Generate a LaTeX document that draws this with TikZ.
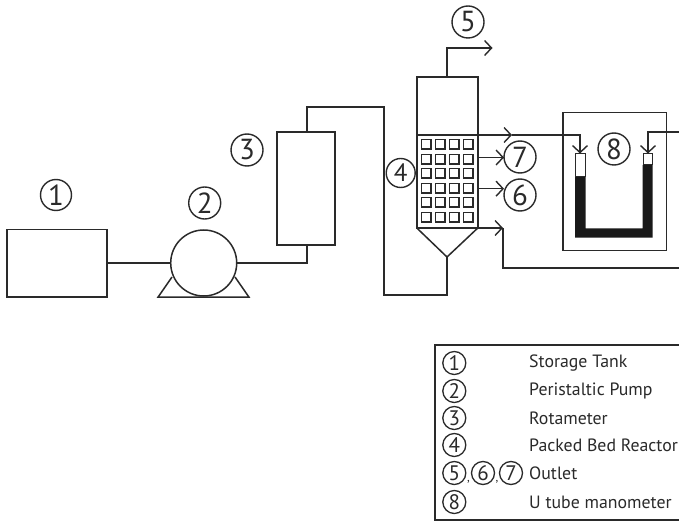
\documentclass[tikz,border=0pt]{standalone}
\usepackage{fontspec}
\setmainfont{PT Sans}
\usetikzlibrary{arrows.meta}
\definecolor{ink}{HTML}{2A2A2A}
\tikzset{
  pipe/.style={draw=ink,line width=1.5pt,line join=miter},
  flow/.style={pipe,-{Straight Barb[length=7pt,width=15pt,line width=1.4pt]}},
  boxn/.style={draw=ink,line width=1.5pt,inner sep=0pt,outer sep=0pt,fill=white},
  cnum/.style={draw=ink,circle,line width=1.4pt,inner sep=0pt,minimum size=32pt,text=ink,font=\fontsize{29}{29}\selectfont},
  lnum/.style={draw=ink,circle,line width=1.3pt,inner sep=0pt,minimum size=23pt,text=ink,font=\fontsize{21}{21}\selectfont},
  ltext/.style={anchor=west,inner sep=0pt,text=ink,font=\fontsize{17.8}{18}\selectfont},
  fluid/.style={fill=black!90,draw=none},
  tube/.style={draw=ink,line width=1pt,fill=white},
}
\begin{document}
\begin{tikzpicture}[x=1pt,y=-1pt]
\useasboundingbox[fill=white] (0,0) rectangle (679,521);
% equipment
\node[boxn,minimum width=100pt,minimum height=67.5pt] (tank) at (57,263.2) {};
\node[boxn,minimum width=58pt,minimum height=113pt] (rota) at (306,188.5) {};
\node[boxn,minimum width=61pt,minimum height=58pt] (head) at (447.3,106) {};
\node[boxn,minimum width=61pt,minimum height=93pt] (bed) at (447.3,181.5) {};
\node[boxn,minimum width=103.5pt,minimum height=137.5pt] (mbox) at (614.5,181.5) {};
% pump
\coordinate (footL) at (158,297.2);
\coordinate (footR) at (249,297.2);
\draw[pipe] (172,277) -- (footL) -- (footR) -- (235,277);
\node[boxn,circle,minimum size=66pt] (pump) at (203.7,263) {};
% cone
\coordinate (apex) at (447,257);
\draw[pipe] (bed.south west) -- (apex) -- (bed.south east);
% packing
\foreach \y in {139.5,154.5,168.5,183.5,197.5,212.5}{\foreach \x in {421.5,435.5,449.5,463.5}{
  \draw[draw=ink,line width=1.4pt] (\x,\y) rectangle +(9.5,9.5);
}}
% connectors
\coordinate (rotaTop) at (307,107);
\coordinate (riserTop) at (384,107);
\coordinate (riserBot) at (384,295);
\coordinate (feed) at (447,295);
\coordinate (rotaLow) at (307,263);
\draw[pipe] (tank.east |- pump.west) -- (pump.west);
\draw[pipe] (pump.east) -- (rotaLow) -- (rota.south -| rotaLow);
\draw[pipe] (rota.north -| rotaTop) -- (rotaTop) -- (riserTop) -- (riserBot) -- (feed) -- (apex);
% outlet 5
\coordinate (out5a) at (447,48);
\coordinate (out5b) at (492.5,48);
\draw[flow] (head.north -| out5a) -- (out5a) -- (out5b);
% outlets 6, 7
\coordinate (out7) at (504,157.5);
\coordinate (out6) at (504,188.7);
\draw[flow] (bed.east |- out7) -- (out7);
\draw[flow] (bed.east |- out6) -- (out6);
% pressure taps
\coordinate (tapTop) at (512,135);
\coordinate (tapBot) at (503,228);
\coordinate (lCorner) at (580,135);
\coordinate (lEnd) at (580,153.5);
\coordinate (rStart) at (685,132);
\coordinate (rCorner) at (648,132);
\coordinate (rEnd) at (648,153.5);
\coordinate (botCorner) at (503,268);
\coordinate (botEnd) at (685,268);
\draw[flow] (bed.north east) -- (tapTop);
\draw[flow] (tapTop) -- (lCorner) -- (lEnd);
\draw[flow] (rStart) -- (rCorner) -- (rEnd);
\draw[flow] (bed.south east) -- (tapBot);
\draw[pipe] (tapBot) -- (botCorner) -- (botEnd);
% manometer
\fill[fluid] (575,177) -- (585.7,177) -- (585.7,228.3) -- (642.7,228.3) -- (642.7,165) -- (652.7,165) -- (652.7,237.5) -- (575,237.5) -- cycle;
\draw[tube] (575.5,154) rectangle (585.2,177);
\draw[tube] (643.2,154) rectangle (652.2,165);
% numbered labels
\node[cnum,minimum size=31pt] (n1) at (56,195) {1};
\node[cnum] (n2) at (204.7,203) {2};
\node[cnum] (n3) at (247,150) {3};
\node[cnum,minimum size=29pt,font=\fontsize{25}{25}\selectfont] (n4) at (400.7,173) {4};
\node[cnum] (n5) at (468,22) {5};
\node[cnum] (n7) at (520,157) {7};
\node[cnum] (n6) at (520,195) {6};
\node[cnum] (n8) at (614,149) {8};
% legend
\draw[draw=ink,line width=1.3pt] (685,345) -- (435,345) -- (435,520) -- (685,520);
\node[lnum] (l1) at (454.3,363) {1};
\node[lnum] (l2) at (454.3,391) {2};
\node[lnum] (l3) at (454.3,418) {3};
\node[lnum] (l4) at (454.3,445) {4};
\node[lnum] (l5) at (454.3,473) {5};
\node[lnum] (l6) at (483,473) {6};
\node[lnum] (l7) at (511,473) {7};
\node[lnum] (l8) at (454.3,502) {8};
\node[inner sep=0pt,text=ink,font=\fontsize{12}{12}\selectfont] (c1) at (468.5,482) {,};
\node[inner sep=0pt,text=ink,font=\fontsize{12}{12}\selectfont] (c2) at (497,482) {,};
\node[ltext] (t1) at (529,363) {Storage Tank};
\node[ltext] (t2) at (529,391) {Peristaltic Pump};
\node[ltext] (t3) at (529,418) {Rotameter};
\node[ltext] (t4) at (529,445) {Packed Bed Reactor};
\node[ltext] (t5) at (529,473) {Outlet};
\node[ltext] (t6) at (529,502) {U tube manometer};
\end{tikzpicture}
\end{document}
